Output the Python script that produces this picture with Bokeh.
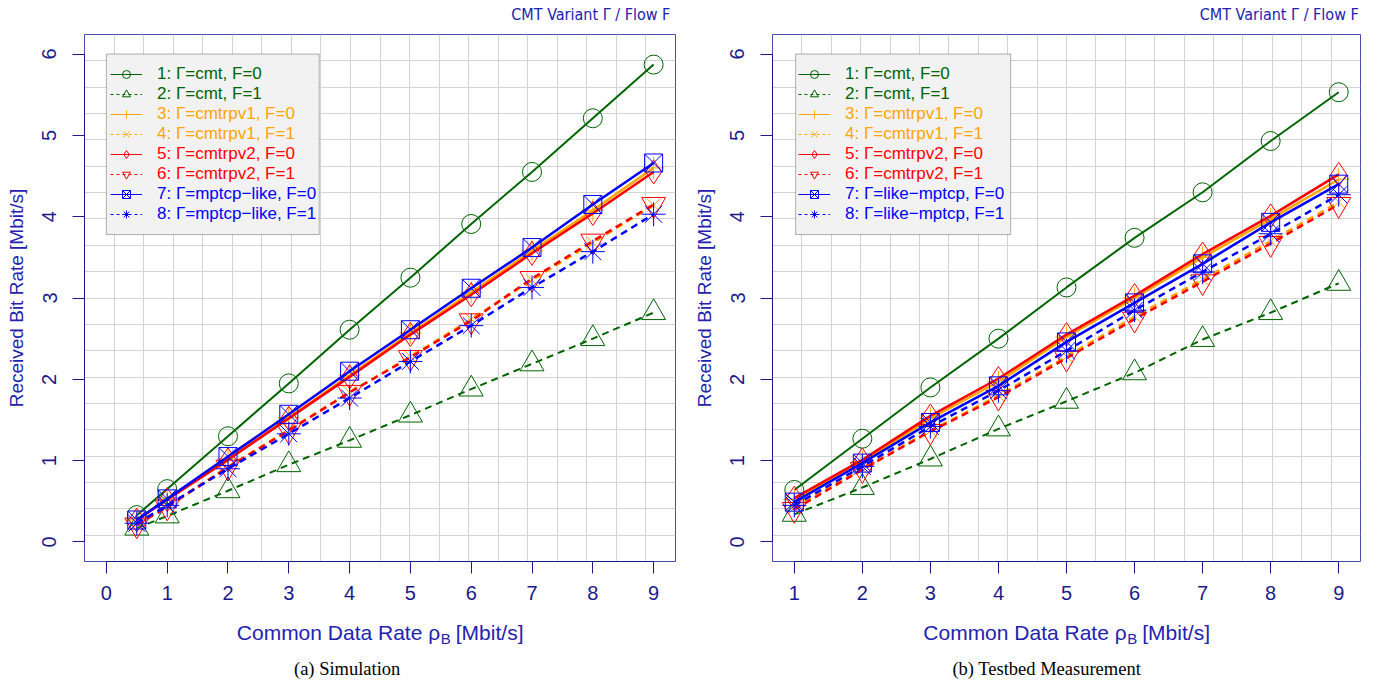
import numpy as np
from bokeh.plotting import figure
from bokeh.models import (ColumnDataSource, Range1d, FixedTicker, Legend, LegendItem,
                          BoxAnnotation, Label)
from bokeh.layouts import row, column
from bokeh.embed import file_html
from bokeh.resources import INLINE

# ---------------- data ----------------
sim_x = [0.5, 1, 2, 3, 4, 5, 6, 7, 8, 9]
sim_cmt_f0 = [0.33, 0.65, 1.30, 1.95, 2.61, 3.25, 3.91, 4.55, 5.21, 5.87]
sim_cmt_f1 = [0.17, 0.32, 0.63, 0.95, 1.25, 1.56, 1.88, 2.19, 2.50, 2.82]
sim_rpv1_f0 = [0.27, 0.53, 1.02, 1.53, 2.05, 2.57, 3.07, 3.58, 4.08, 4.60]
sim_rpv1_f1 = [0.22, 0.44, 0.92, 1.38, 1.84, 2.28, 2.74, 3.22, 3.68, 4.14]
sim_rpv2_f0 = [0.27, 0.52, 1.01, 1.52, 2.03, 2.55, 3.04, 3.55, 4.04, 4.55]
sim_rpv2_f1 = [0.21, 0.43, 0.92, 1.37, 1.84, 2.27, 2.72, 3.24, 3.70, 4.15]
sim_mptcp_f0 = [0.27, 0.53, 1.05, 1.57, 2.10, 2.61, 3.12, 3.62, 4.15, 4.66]
sim_mptcp_f1 = [0.23, 0.45, 0.90, 1.33, 1.77, 2.22, 2.66, 3.13, 3.57, 4.03]

tb_x = [1, 2, 3, 4, 5, 6, 7, 8, 9]
tb_cmt_f0 = [0.64, 1.27, 1.90, 2.50, 3.13, 3.74, 4.30, 4.93, 5.53]
tb_cmt_f1 = [0.34, 0.67, 1.02, 1.39, 1.73, 2.08, 2.49, 2.82, 3.18]
tb_rpv1_f0 = [0.52, 0.99, 1.52, 1.97, 2.52, 3.00, 3.50, 3.97, 4.46]
tb_rpv1_f1 = [0.42, 0.90, 1.37, 1.80, 2.28, 2.77, 3.23, 3.70, 4.18]
tb_rpv2_f0 = [0.54, 1.01, 1.55, 2.01, 2.55, 3.03, 3.54, 4.01, 4.52]
tb_rpv2_f1 = [0.40, 0.89, 1.36, 1.78, 2.26, 2.74, 3.20, 3.67, 4.15]
tb_mptcp_f0 = [0.49, 0.97, 1.47, 1.92, 2.46, 2.94, 3.42, 3.93, 4.40]
tb_mptcp_f1 = [0.45, 0.93, 1.42, 1.86, 2.35, 2.85, 3.32, 3.79, 4.27]

sim_labels = ["1: Γ=cmt, F=0", "2: Γ=cmt, F=1", "3: Γ=cmtrpv1, F=0", "4: Γ=cmtrpv1, F=1",
              "5: Γ=cmtrpv2, F=0", "6: Γ=cmtrpv2, F=1", "7: Γ=mptcp\u2212like, F=0",
              "8: Γ=mptcp\u2212like, F=1"]
tb_labels = ["1: Γ=cmt, F=0", "2: Γ=cmt, F=1", "3: Γ=cmtrpv1, F=0", "4: Γ=cmtrpv1, F=1",
             "5: Γ=cmtrpv2, F=0", "6: Γ=cmtrpv2, F=1", "7: Γ=like\u2212mptcp, F=0",
             "8: Γ=like\u2212mptcp, F=1"]

sim_xticks = [0, 1, 2, 3, 4, 5, 6, 7, 8, 9]
tb_xticks = [1, 2, 3, 4, 5, 6, 7, 8, 9]
yticks = [0, 1, 2, 3, 4, 5, 6]

# ---------------- style ----------------
colors = ["#006400", "#006400", "#FFA500", "#FFA500", "#FF0000", "#FF0000", "#0000FF", "#0000FF"]
markers = ["circle", "triangle", "cross", "x", "diamond", "inverted_triangle", "square_x", "asterisk"]
sizes = [19, 24, 22, 18, 24, 24, 18, 24]
widths = [2, 2, 2.5, 2.5, 2.5, 2.5, 2.5, 2.5]
dashes = ["solid", "7 5"] * 4
leg_dashes = ["solid", "3 3"] * 4

AX = "#1A1A8C"
LAB = "#2222B0"
SANS = "Liberation Sans"
H_TOP = 34
H_MAIN = 581
H_LOW = 69
XL = 21  # x-label font size (px)


def strip(W, H, xr_model, bl, br):
    s = figure(width=W, height=H, x_range=xr_model, y_range=Range1d(0, H),
               output_backend="svg", toolbar_location=None,
               x_axis_location=None, y_axis_location=None,
               min_border_left=bl, min_border_right=br, min_border_top=0, min_border_bottom=0,
               background_fill_color="white", border_fill_color="white", outline_line_color=None)
    s.xgrid.visible = False
    s.ygrid.visible = False
    return s


def panel(x, series, labels, xr, xticks, xbounds, W, bl, br, box, leg_x, caption, cap_x):
    p = figure(width=W, height=H_MAIN, x_range=Range1d(*xr), y_range=Range1d(-0.24, 6.24),
               output_backend="svg", toolbar_location=None,
               min_border_left=bl, min_border_right=br, min_border_top=0, min_border_bottom=54,
               background_fill_color="white", border_fill_color="white")
    p.outline_line_color = "#4B4BB4"
    p.outline_line_width = 1

    p.xaxis.ticker = FixedTicker(ticks=xticks)
    p.yaxis.ticker = FixedTicker(ticks=yticks)
    p.xaxis.bounds = xbounds
    p.yaxis.bounds = (0, 6)
    for ax in (p.xaxis[0], p.yaxis[0]):
        ax.axis_line_color = AX
        ax.major_tick_line_color = AX
        ax.major_tick_out = 12
        ax.major_tick_in = 0
        ax.minor_tick_line_color = None
        ax.major_label_text_color = AX
        ax.major_label_text_font = SANS
        ax.major_label_text_font_size = "20px"
        ax.axis_label_text_font = SANS
        ax.axis_label_text_font_size = "19px"
        ax.axis_label_text_font_style = "normal"
        ax.axis_label_text_color = LAB
    p.yaxis.major_label_orientation = "vertical"
    p.yaxis.major_label_standoff = 16
    p.yaxis.axis_label = "Received Bit Rate [Mbit/s]"
    p.yaxis.axis_label_standoff = 13
    p.xaxis.major_label_standoff = 12

    p.xgrid.ticker = FixedTicker(ticks=list(np.linspace(xr[0], xr[1], 21)))
    p.ygrid.ticker = FixedTicker(ticks=list(np.linspace(-0.24, 6.24, 21)))
    p.xgrid.grid_line_color = "#D3D3D3"
    p.ygrid.grid_line_color = "#D3D3D3"

    for i in range(8):
        src = ColumnDataSource(dict(x=x, y=series[i]))
        p.line("x", "y", source=src, line_color=colors[i], line_width=widths[i], line_dash=dashes[i])
        p.scatter("x", "y", source=src, marker=markers[i], size=sizes[i], line_color=colors[i],
                  fill_color=None, line_width=1)

    # legend
    p.add_layout(BoxAnnotation(left=box[0], right=box[1], bottom=box[2], top=box[3],
                               fill_color="#F2F2F2", fill_alpha=1, line_color="black", line_width=1))
    items = []
    for i in range(8):
        d = ColumnDataSource(dict(x=[np.nan], y=[np.nan]))
        lr = p.line("x", "y", source=d, line_color=colors[i], line_width=1, line_dash=leg_dashes[i])
        sr = p.scatter("x", "y", source=d, marker=markers[i], size=11, line_color=colors[i],
                       fill_color=None, line_width=1)
        items.append(LegendItem(label=labels[i], renderers=[lr, sr]))
    for g in range(4):
        leg = Legend(items=items[2 * g:2 * g + 2], location=(leg_x, 457 - 40 * g),
                     padding=0, margin=0, spacing=0, glyph_width=32, glyph_height=20,
                     label_height=20, label_standoff=15, label_text_font=SANS,
                     label_text_font_size="17px", label_text_color=colors[2 * g],
                     border_line_color=None, background_fill_alpha=0)
        p.add_layout(leg)

    # top strip: title (pixel coordinates across the whole strip)
    t = strip(W, H_TOP, Range1d(0, W), 0, 0)
    t.add_layout(Label(x=W - br + 9, y=20, text="CMT Variant Γ / Flow F", text_align="right",
                       text_baseline="middle",
                       text_font="'Liberation Sans Narrow', 'DejaVu Sans Condensed', 'Liberation Sans'",
                       text_font_size="16px", text_color=LAB))

    # lower strip: x-axis label (with subscript) and caption
    q = strip(W, H_LOW, p.x_range, bl, br)
    cx = (xr[0] + xr[1]) / 2
    total = 13.66 * XL
    end1 = -total / 2 + 9.694 * XL
    q.add_layout(Label(x=cx, y=52, x_offset=end1, text="Common Data Rate ρ", text_align="right",
                       text_baseline="middle", text_font=SANS, text_font_size=f"{XL}px",
                       text_color=LAB))
    q.add_layout(Label(x=cx, y=52, x_offset=end1 + 0.5, y_offset=-6, text="B", text_align="left",
                       text_baseline="middle", text_font=SANS, text_font_size=f"{round(XL * 0.7)}px",
                       text_color=LAB))
    q.add_layout(Label(x=cx, y=52, x_offset=end1 + 0.745 * XL, text="[Mbit/s]", text_align="left",
                       text_baseline="middle", text_font=SANS, text_font_size=f"{XL}px",
                       text_color=LAB))
    q.add_layout(Label(x=cap_x, y=16, text=caption, text_align="center",
                       text_baseline="middle", text_font="Liberation Serif",
                       text_font_size="18.5px", text_color="black"))
    return column(t, p, q, spacing=0)


c1 = panel(sim_x,
           [sim_cmt_f0, sim_cmt_f1, sim_rpv1_f0, sim_rpv1_f1, sim_rpv2_f0, sim_rpv2_f1,
            sim_mptcp_f0, sim_mptcp_f1],
           sim_labels, (-0.36, 9.36), sim_xticks, (0, 9), 690, 84, 15,
           (0.0, 3.5, 3.78, 6.0), 26, "(a) Simulation", 3.96)
c2 = panel(tb_x,
           [tb_cmt_f0, tb_cmt_f1, tb_rpv1_f0, tb_rpv1_f1, tb_rpv2_f0, tb_rpv2_f1,
            tb_mptcp_f0, tb_mptcp_f1],
           tb_labels, (0.68, 9.32), tb_xticks, (1, 9), 681, 80, 11,
           (1.02, 4.18, 3.78, 6.0), 26, "(b) Testbed Measurement", 4.71)

layout = row(c1, c2, spacing=0)
open("out.html", "w").write(file_html(layout, INLINE))
